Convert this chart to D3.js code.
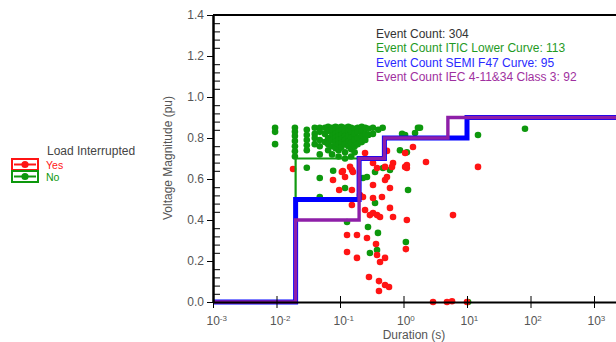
<!DOCTYPE html>
<html><head><meta charset="utf-8">
<script src="https://cdn.jsdelivr.net/npm/d3@7/dist/d3.min.js"></script>
<style>
body{margin:0;background:#fff;}
svg{display:block;font-family:Arial,"Liberation Sans",sans-serif;}
</style></head>
<body><svg id="c" width="616" height="342"></svg>
<script>
// ---- data ----
const xTickExponents = [-3, -2, -1, 0, 1, 2, 3];
const yTickValues = [0, 0.2, 0.4, 0.6, 0.8, 1.0, 1.2, 1.4];
const countLabels = ["Event Count: 304", "Event Count ITIC Lower Curve: 113", "Event Count SEMI F47 Curve: 95", "Event Count IEC 4-11&34 Class 3: 92"];
const legendTitle = "Load Interrupted";
const legendItems = ["Yes", "No"];

// step curves: [duration (s), voltage (pu)] breakpoints
const iticDur = [0.001, 0.02, 0.5, 10, 10000];
const iticVal = [0, 0.7, 0.8, 0.9, 0.9];
const semiDur = [0.001, 0.02, 0.2, 0.5, 10, 10000];
const semiVal = [0, 0.5, 0.7, 0.8, 0.9, 0.9];
const iecDur = [0.001, 0.02, 0.2, 0.5, 5, 10000];
const iecVal = [0, 0.4, 0.7, 0.8, 0.9, 0.9];

// events: [duration (s), voltage (pu)]
const eventsNo = [
[0.0095,0.85],[0.0095,0.83],[0.0095,0.77],
[0.0195,0.85],[0.0195,0.83],[0.0195,0.81],[0.0195,0.785],[0.0195,0.76],[0.0195,0.735],[0.0195,0.71],
[0.030,0.84],[0.030,0.815],[0.030,0.79],[0.030,0.765],[0.030,0.74],[0.030,0.655],
[0.040,0.85],[0.040,0.82],[0.040,0.80],[0.040,0.77],
[0.048,0.85],[0.048,0.83],[0.048,0.79],[0.048,0.76],[0.048,0.72],
[0.058,0.85],[0.058,0.82],[0.058,0.78],
[0.065,0.855],[0.065,0.835],[0.065,0.80],[0.065,0.77],[0.065,0.74],
[0.075,0.85],[0.075,0.83],[0.075,0.81],[0.075,0.79],[0.075,0.76],[0.075,0.72],
[0.085,0.855],[0.085,0.84],[0.085,0.82],[0.085,0.80],[0.085,0.78],[0.085,0.75],
[0.095,0.85],[0.095,0.83],[0.095,0.81],[0.095,0.79],[0.095,0.77],[0.095,0.74],[0.095,0.71],
[0.105,0.855],[0.105,0.835],[0.105,0.815],[0.105,0.795],[0.105,0.775],[0.105,0.755],
[0.12,0.85],[0.12,0.83],[0.12,0.81],[0.12,0.79],[0.12,0.77],[0.12,0.73],[0.12,0.70],
[0.135,0.855],[0.135,0.835],[0.135,0.81],[0.135,0.78],[0.135,0.76],
[0.15,0.85],[0.15,0.83],[0.15,0.80],[0.15,0.775],[0.15,0.745],[0.15,0.71],
[0.17,0.845],[0.17,0.82],[0.17,0.79],[0.17,0.76],[0.17,0.73],
[0.19,0.85],[0.19,0.83],[0.19,0.80],[0.19,0.77],
[0.22,0.855],[0.22,0.83],[0.22,0.81],[0.22,0.78],
[0.25,0.85],[0.25,0.82],[0.25,0.79],
[0.28,0.845],[0.28,0.815],[0.33,0.85],[0.33,0.82],[0.40,0.84],[0.47,0.85],
[0.88,0.74],[0.95,0.82],[1.06,0.815],[1.13,0.73],[1.52,0.824],[1.69,0.85],[1.82,0.85],
[14.9,0.815],[81.9,0.845],[10.4,0.0],
[0.048,0.605],[0.078,0.64],[0.23,0.605],[0.266,0.61],[0.356,0.634],[0.612,0.644],[0.475,0.654],
[0.048,0.512],[0.12,0.556],[0.129,0.39],[0.356,0.483],[0.276,0.366],[0.396,0.337],
[0.296,0.239],[0.383,0.254],[1.18,0.546],[1.09,0.293]
];
const eventsYes = [
[0.0182,0.649],[0.107,0.634],[0.111,0.639],[0.144,0.659],[0.154,0.644],[0.16,0.634],
[0.0776,0.595],[0.097,0.546],[0.12,0.61],[0.154,0.546],[0.206,0.522],[0.154,0.473],[0.23,0.512],
[0.248,0.449],[0.331,0.507],[0.458,0.512],[0.331,0.434],[0.383,0.424],[0.427,0.415],
[0.612,0.459],[0.684,0.415],[0.296,0.424],[0.331,0.571],[0.512,0.595],[0.549,0.61],[0.612,0.556],
[0.512,0.659],[0.684,0.678],[0.659,0.659],[1.06,0.659],[1.13,0.668],[1.41,0.756],[2.26,0.683],
[1.13,0.40],[1.09,0.258],[0.129,0.327],[0.185,0.327],[0.266,0.312],[0.369,0.283],
[0.129,0.244],[0.185,0.215],[0.383,0.229],[0.427,0.195],[0.512,0.215],
[0.286,0.122],[0.411,0.102],[0.512,0.083],[0.592,0.073],[0.411,0.054],
[0.248,0.727],[0.331,0.678],[0.383,0.654],[0.549,0.737],[1.06,0.727],[1.13,0.654],
[6.02,0.424],[14.9,0.659],[2.92,0],[4.84,0],[5.81,0.004],[10,0]
];

// ---- drawing ----
const svg = d3.select("#c");
const x = d3.scaleLog().domain([1e-3, 1e4]).range([213, 213 + 7 * 63.5]);
const y = d3.scaleLinear().domain([0, 1.4]).range([302, 15]);
const grey = "#555";

// points
svg.append("g").selectAll("circle").data(eventsNo).join("circle")
  .attr("cx", d => x(d[0])).attr("cy", d => y(d[1])).attr("r", 3.3).attr("fill", "#0d980d");
svg.append("g").selectAll("circle").data(eventsYes).join("circle")
  .attr("cx", d => x(d[0])).attr("cy", d => y(d[1])).attr("r", 3.3).attr("fill", "#ff1414");

// curves
const step = d3.line().x(d => x(d[0])).y(d => y(d[1])).curve(d3.curveStepAfter);
const curves = [
  {dur: iticDur, val: iticVal, color: "#119a11", w: 2.2},
  {dur: semiDur, val: semiVal, color: "#0000ff", w: 5},
  {dur: iecDur, val: iecVal, color: "#8e1fa8", w: 3.4}
];
curves.forEach(c => {
  svg.append("path").datum(c.dur.map((d, i) => [d, c.val[i]]))
    .attr("d", step).attr("fill", "none").attr("stroke", c.color)
    .attr("stroke-width", c.w).attr("stroke-linejoin", "miter");
});

// top border
svg.append("line").attr("x1", x(1e-3)).attr("x2", x(1e4)).attr("y1", y(1.4)).attr("y2", y(1.4))
  .attr("stroke", "#000").attr("stroke-width", 2);

// y axis
const minorY = d3.range(0, 71).map(i => i * 0.02).filter((v, i) => i % 2 === 0 && i % 10 !== 0);
const yAxL = svg.append("g").attr("transform", `translate(${x(1e-3)},0)`)
  .call(d3.axisLeft(y).tickValues(yTickValues).tickSize(6).tickSizeOuter(0).tickPadding(3).tickFormat(d3.format(".1f")));
const yAxR = svg.append("g").attr("transform", `translate(${x(1e-3)},0)`)
  .call(d3.axisRight(y).tickValues(minorY).tickSize(7).tickSizeOuter(0).tickFormat(""));
yAxR.select(".domain").remove();
yAxL.select(".domain").attr("stroke", "#000").attr("stroke-width", 2.5);
yAxL.selectAll("text").attr("fill", grey).attr("font-size", 12).attr("font-family", "Arial, 'Liberation Sans', sans-serif");

// x axis
const xTicks = xTickExponents.map(e => Math.pow(10, e));
const xAxB = svg.append("g").attr("transform", `translate(0,${y(0)})`)
  .call(d3.axisBottom(x).tickValues(xTicks).tickSize(6).tickSizeOuter(0).tickFormat(""));
const xAxT = svg.append("g").attr("transform", `translate(0,${y(0)})`)
  .call(d3.axisTop(x).tickValues(xTicks).tickSize(6).tickSizeOuter(0).tickFormat(""));
xAxT.select(".domain").remove();
xAxB.select(".domain").attr("stroke", "#000").attr("stroke-width", 2);
const xl = svg.append("g").selectAll("text").data(xTickExponents).join("text")
  .attr("x", e => x(Math.pow(10, e)) - 6.5).attr("y", 325)
  .attr("fill", grey).attr("font-size", 12);
xl.append("tspan").text("10");
xl.append("tspan").attr("font-size", 8).attr("dy", -4).text(e => e);

// axis titles
svg.append("text").attr("transform", "translate(172,158) rotate(-90)").attr("text-anchor", "middle")
  .attr("fill", grey).attr("font-size", 12).text("Voltage Magnitude (pu)");
svg.append("text").attr("x", 414).attr("y", 339).attr("text-anchor", "middle")
  .attr("fill", grey).attr("font-size", 12).text("Duration (s)");

// count texts
const countColors = ["#333", "#1f9a1f", "#2a2aff", "#a030a0"];
svg.append("g").selectAll("text").data(countLabels).join("text")
  .attr("x", 376).attr("y", (d, i) => 38 + i * 14.3).attr("font-size", 12)
  .attr("fill", (d, i) => countColors[i]).text(d => d);

// legend
svg.append("text").attr("x", 47).attr("y", 155).attr("font-size", 12).attr("fill", "#444").text(legendTitle);
const legColors = ["#ff1414", "#0d980d"];
const lg = svg.append("g").selectAll("g").data(legendItems).join("g")
  .attr("transform", (d, i) => `translate(0,${159 + i * 12})`);
lg.append("rect").attr("x", 12).attr("y", 0).attr("width", 26).attr("height", 11)
  .attr("fill", "#fff").attr("stroke", (d, i) => legColors[i]).attr("stroke-width", 2);
lg.append("line").attr("x1", 14).attr("x2", 36).attr("y1", 5.5).attr("y2", 5.5)
  .attr("stroke", (d, i) => legColors[i]).attr("stroke-width", 2);
lg.append("circle").attr("cx", 25).attr("cy", 5.5).attr("r", 3.6).attr("fill", (d, i) => legColors[i]);
lg.append("text").attr("x", 46).attr("y", 9.5).attr("font-size", 10.5)
  .attr("fill", (d, i) => legColors[i]).text(d => d);
</script></body></html>
